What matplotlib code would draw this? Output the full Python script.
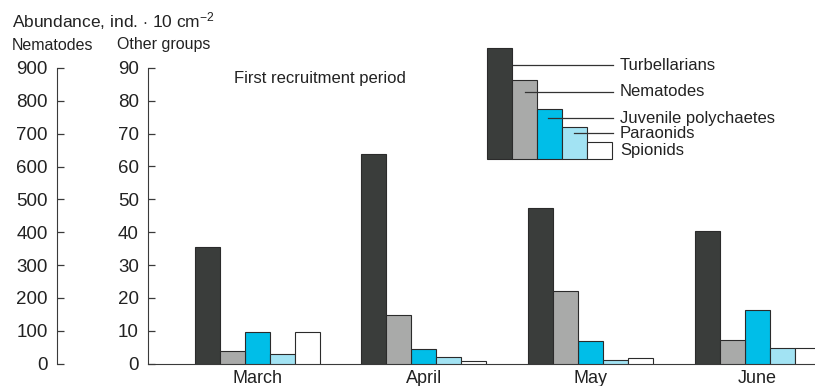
import matplotlib
matplotlib.use("Agg")
import matplotlib.pyplot as plt
from matplotlib.patches import Rectangle
import numpy as np

plt.rcParams["font.family"] = ["Liberation Sans", "DejaVu Sans"]
plt.rcParams["mathtext.fontset"] = "custom"
plt.rcParams["mathtext.rm"] = "Liberation Sans"
plt.rcParams["mathtext.it"] = "Liberation Sans"

# Monthly abundance, ind. per 10 cm^2
months = ["March", "April", "May", "June"]
turbellarians = [35.5, 63.7, 47.5, 40.3]
nematodes = [37, 147, 220, 72]          # read on the 0-900 nematode scale
juvenile_polychaetes = [9.5, 4.5, 6.8, 16.2]
paraonids = [2.9, 1.9, 1.1, 4.8]
spionids = [9.5, 0.8, 1.7, 4.6]

group_names = ["Turbellarians", "Nematodes", "Juvenile polychaetes",
               "Paraonids", "Spionids"]
other_ticks = [0, 10, 20, 30, 40, 50, 60, 70, 80, 90]
nematode_ticks = [0, 100, 200, 300, 400, 500, 600, 700, 800, 900]

colors = ["#3a3d3b", "#a9aaa9", "#00bee8", "#a2e3f3", "#ffffff"]
edge = "#2b2b2b"

W, H = 815, 386
fig = plt.figure(figsize=(W / 100, H / 100), dpi=100)

y0_px, y90_px = 363.5, 68.0
ax = fig.add_axes([148 / W, (H - y0_px) / H, (W - 148) / W, (y0_px - y90_px) / H])
ax.set_ylim(0, 90)
ax.set_xlim(-0.654, 3.347)

x = np.arange(len(months))
w = 0.15
offsets = np.array([-2, -1, 0, 1, 2]) * w

ax_n = ax.twinx()
ax_n.set_ylim(0, 900)

ax.bar(x + offsets[0], turbellarians, w, color=colors[0], edgecolor=edge, linewidth=0.8, zorder=3)
ax_n.bar(x + offsets[1], nematodes, w, color=colors[1], edgecolor=edge, linewidth=0.8, zorder=3)
ax.bar(x + offsets[2], juvenile_polychaetes, w, color=colors[2], edgecolor=edge, linewidth=0.8, zorder=3)
ax.bar(x + offsets[3], paraonids, w, color=colors[3], edgecolor=edge, linewidth=0.8, zorder=3)
ax.bar(x + offsets[4], spionids, w, color=colors[4], edgecolor=edge, linewidth=0.8, zorder=3)

spine_col = "#3a3a3a"
for s in ["top", "right"]:
    ax.spines[s].set_visible(False)
ax.spines["left"].set_color(spine_col)
ax.spines["bottom"].set_color(spine_col)
ax.spines["left"].set_bounds(0, 90)
ax.set_yticks(other_ticks)
ax.set_xticks(x)
ax.set_xticklabels(months)
ax.tick_params(axis="x", length=0, labelsize=13, pad=5, labelcolor="#222222")

for s in ["top", "right", "bottom"]:
    ax_n.spines[s].set_visible(False)
ax_n.spines["left"].set_visible(True)
ax_n.spines["left"].set_position(("outward", (148 - 57) * 0.72))
ax_n.spines["left"].set_color(spine_col)
ax_n.yaxis.tick_left()
ax_n.set_yticks(nematode_ticks)

# Ticks on both vertical scales point inward (to the right of the spine)
for a in (ax, ax_n):
    a.tick_params(axis="y", which="both", left=True, right=False,
                  direction="in", length=5, width=0.9, color=spine_col,
                  labelsize=13.5, pad=6.5, labelcolor="#222222")

# Overlay in pixel coordinates for headings and the key
ov = fig.add_axes([0, 0, 1, 1], zorder=10)
ov.set_xlim(0, W)
ov.set_ylim(H, 0)
ov.axis("off")
ov.patch.set_alpha(0)

tc = "#222222"
ov.text(12, 21, r"Abundance, ind. $\cdot$ 10 cm$^{-2}$", fontsize=12.5, va="center", ha="left", color=tc)
ov.text(12, 45, "Nematodes", fontsize=11.5, va="center", ha="left", color=tc)
ov.text(117, 45, "Other groups", fontsize=11.5, va="center", ha="left", color=tc)
ov.text(234, 79, "First recruitment period", fontsize=12, va="center", ha="left", color=tc)

# Key: stepped bars with leader lines to the names
key_left, key_bottom, key_w = 487, 159, 25
key_tops = [48, 80, 109, 127, 142]
for i, top in enumerate(key_tops):
    ov.add_patch(Rectangle((key_left + i * key_w, top), key_w, key_bottom - top,
                           facecolor=colors[i], edgecolor=edge, linewidth=0.8))
label_y = [65, 92, 118, 134, 150]
line_y = [65, 92, 118, 133, None]
line_x0 = [513, 525, 548, 574, None]
for name, ly, lny, lx0 in zip(group_names, label_y, line_y, line_x0):
    if lny is not None:
        ov.plot([lx0, 613], [lny, lny], color="#333333", linewidth=0.9)
    ov.text(620, ly, name, fontsize=12, va="center", ha="left", color=tc)

fig.savefig("out.png", dpi=100)
